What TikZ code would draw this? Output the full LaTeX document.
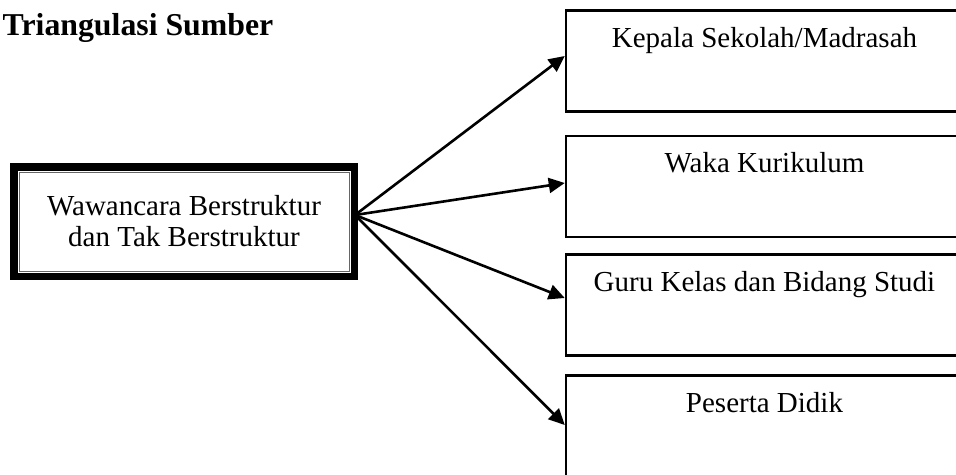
\documentclass[tikz,border=0pt]{standalone}
\usepackage{fontspec}
\setmainfont{Liberation Serif}
\usetikzlibrary{arrows.meta}
\begin{document}
\begin{tikzpicture}[x=1pt,y=-1pt,
  lbl/.style={font=\fontsize{29}{31}\selectfont, inner sep=0pt, anchor=base},
  titlelbl/.style={font=\bfseries\fontsize{31.8}{34}\selectfont, inner sep=0pt, anchor=base west},
  srcbox/.style={draw, line width=7.5pt, minimum width=340.5pt, minimum height=109.5pt, inner sep=0pt, font=\fontsize{29}{31}\selectfont, align=center},
  innerline/.style={line width=2.6pt},
  greyline/.style={line width=0.9pt, draw=black!60},
  tgtbox/.style={draw, line width=2.5pt, minimum width=397pt, minimum height=101pt, inner sep=0pt},
  conn/.style={line width=2.6pt, -{Triangle[length=16pt,width=15pt]}},
]
\useasboundingbox (0,0) rectangle (956,474);
\clip (0,0) rectangle (956,474);
\fill[white] (0,0) rectangle (956,474);

% title
\node[titlelbl] (title) at (2.5,35) {Triangulasi Sumber};

% source box
\node[srcbox] (m) at (184,221.5) {Wawancara Berstruktur\\dan Tak Berstruktur};
\draw[innerline] ([shift={(6pt,-6pt)}]m.north west) rectangle ([shift={(-6pt,6pt)}]m.south east);
\draw[greyline] ([shift={(9pt,-9pt)}]m.north west) rectangle ([shift={(-9pt,9pt)}]m.south east);
\coordinate (src) at (355,215);

% target boxes
\node[tgtbox] (b1) at (764.5,61) {};
\node[tgtbox] (b2) at (764.5,186.5) {};
\node[tgtbox] (b3) at (764.5,305) {};
\node[tgtbox] (b4) at (764.5,426) {};

\node[lbl] (l1) at ([yshift=-38pt]b1.north) {Kepala Sekolah/Madrasah};
\node[lbl] (l2) at ([yshift=-38pt]b2.north) {Waka Kurikulum};
\node[lbl] (l3) at ([yshift=-38pt]b3.north) {Guru Kelas dan Bidang Studi};
\node[lbl] (l4) at ([yshift=-38pt]b4.north) {Peserta Didik};

% connectors
\draw[conn] (src) -- ([yshift=5pt]b1.west);
\draw[conn] (src) -- ([yshift=3.5pt]b2.west);
\draw[conn] (src) -- ([yshift=7pt]b3.west);
\draw[conn] (src) -- ([yshift=1pt]b4.west);
\end{tikzpicture}
\end{document}
